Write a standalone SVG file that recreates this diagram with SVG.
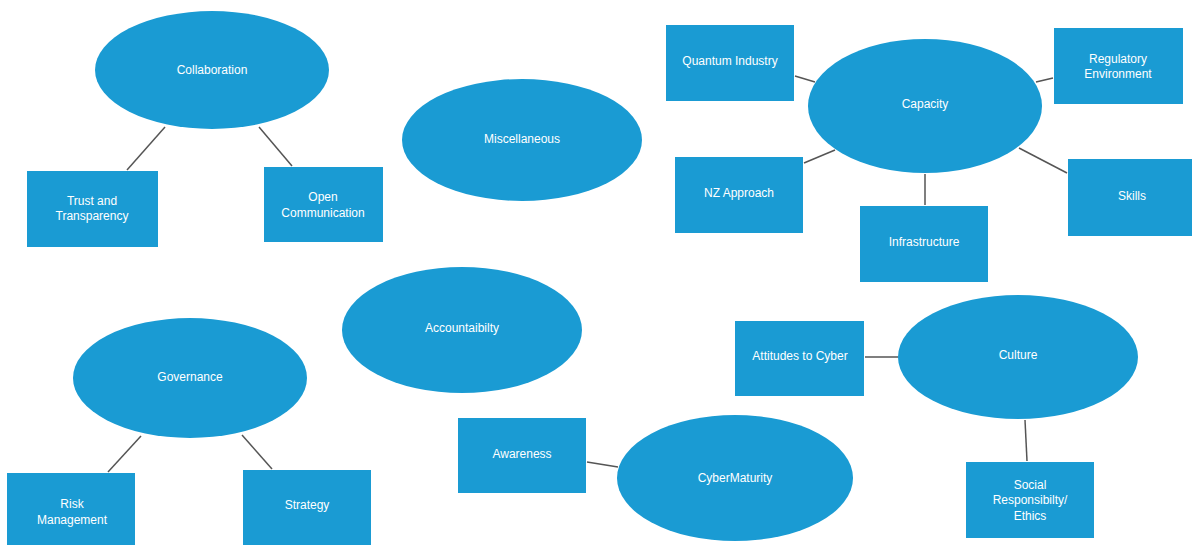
<svg xmlns="http://www.w3.org/2000/svg" width="1192" height="545" viewBox="0 0 1192 545">
  <style>
    .topic { fill: #1a9bd3; }
    .item { fill: #1a9bd3; }
    .label { fill: #ffffff; font-family: "Liberation Sans", Arial, sans-serif; font-size: 12px; text-anchor: middle; }
    .link { stroke: #555555; stroke-width: 1.5; fill: none; }
  </style>
  <rect width="1192" height="545" fill="#ffffff"/>

  <!-- connectors -->
  <g id="connectors">
    <line class="link" x1="165" y1="127" x2="127" y2="170"/>
    <line class="link" x1="259" y1="127" x2="292" y2="166"/>
    <line class="link" x1="795" y1="76" x2="815" y2="82"/>
    <line class="link" x1="1036" y1="82" x2="1053" y2="78"/>
    <line class="link" x1="804" y1="163" x2="835" y2="150"/>
    <line class="link" x1="925" y1="174" x2="925" y2="205"/>
    <line class="link" x1="1019" y1="148" x2="1067" y2="173"/>
    <line class="link" x1="141" y1="436" x2="108" y2="472"/>
    <line class="link" x1="242" y1="435" x2="272" y2="469"/>
    <line class="link" x1="865" y1="357" x2="898" y2="357"/>
    <line class="link" x1="1025" y1="420" x2="1027" y2="461"/>
    <line class="link" x1="587" y1="462" x2="618" y2="467"/>
  </g>

  <!-- Collaboration cluster -->
  <g id="collaboration">
    <ellipse class="topic" cx="212" cy="70" rx="117" ry="59"/>
    <text class="label" x="212" y="74">Collaboration</text>
  </g>
  <g id="trust-transparency">
    <rect class="item" x="27" y="171" width="131" height="76"/>
    <text class="label" x="92" y="205">Trust and</text>
    <text class="label" x="92" y="220">Transparency</text>
  </g>
  <g id="open-communication">
    <rect class="item" x="264" y="167" width="119" height="75"/>
    <text class="label" x="323" y="201">Open</text>
    <text class="label" x="323" y="217">Communication</text>
  </g>

  <!-- Miscellaneous -->
  <g id="miscellaneous">
    <ellipse class="topic" cx="522" cy="140" rx="120" ry="61"/>
    <text class="label" x="522" y="143">Miscellaneous</text>
  </g>

  <!-- Capacity cluster -->
  <g id="capacity">
    <ellipse class="topic" cx="925" cy="106" rx="117" ry="67"/>
    <text class="label" x="925" y="108">Capacity</text>
  </g>
  <g id="quantum-industry">
    <rect class="item" x="666" y="25" width="128" height="76"/>
    <text class="label" x="730" y="65">Quantum Industry</text>
  </g>
  <g id="regulatory-environment">
    <rect class="item" x="1054" y="28" width="129" height="76"/>
    <text class="label" x="1118" y="63">Regulatory</text>
    <text class="label" x="1118" y="78">Environment</text>
  </g>
  <g id="nz-approach">
    <rect class="item" x="675" y="157" width="128" height="76"/>
    <text class="label" x="739" y="197">NZ Approach</text>
  </g>
  <g id="infrastructure">
    <rect class="item" x="860" y="206" width="128" height="76"/>
    <text class="label" x="924" y="246">Infrastructure</text>
  </g>
  <g id="skills">
    <rect class="item" x="1068" y="159" width="124" height="77"/>
    <text class="label" x="1132" y="200">Skills</text>
  </g>

  <!-- Governance cluster -->
  <g id="governance">
    <ellipse class="topic" cx="190" cy="378" rx="117" ry="60"/>
    <text class="label" x="190" y="381">Governance</text>
  </g>
  <g id="risk-management">
    <rect class="item" x="7" y="473" width="128" height="72"/>
    <text class="label" x="72" y="508">Risk</text>
    <text class="label" x="72" y="524">Management</text>
  </g>
  <g id="strategy">
    <rect class="item" x="243" y="470" width="128" height="75"/>
    <text class="label" x="307" y="509">Strategy</text>
  </g>

  <!-- Accountability -->
  <g id="accountability">
    <ellipse class="topic" cx="462" cy="330" rx="120" ry="63"/>
    <text class="label" x="462" y="332">Accountaibilty</text>
  </g>

  <!-- Culture cluster -->
  <g id="culture">
    <ellipse class="topic" cx="1018" cy="357" rx="120" ry="62"/>
    <text class="label" x="1018" y="359">Culture</text>
  </g>
  <g id="attitudes-to-cyber">
    <rect class="item" x="735" y="321" width="129" height="75"/>
    <text class="label" x="800" y="360">Attitudes to Cyber</text>
  </g>
  <g id="social-responsibility">
    <rect class="item" x="966" y="462" width="128" height="76"/>
    <text class="label" x="1030" y="489">Social</text>
    <text class="label" x="1030" y="504">Responsibilty/</text>
    <text class="label" x="1030" y="520">Ethics</text>
  </g>

  <!-- CyberMaturity cluster -->
  <g id="cybermaturity">
    <ellipse class="topic" cx="735" cy="478" rx="118" ry="63"/>
    <text class="label" x="735" y="482">CyberMaturity</text>
  </g>
  <g id="awareness">
    <rect class="item" x="458" y="418" width="128" height="75"/>
    <text class="label" x="522" y="458">Awareness</text>
  </g>
</svg>
